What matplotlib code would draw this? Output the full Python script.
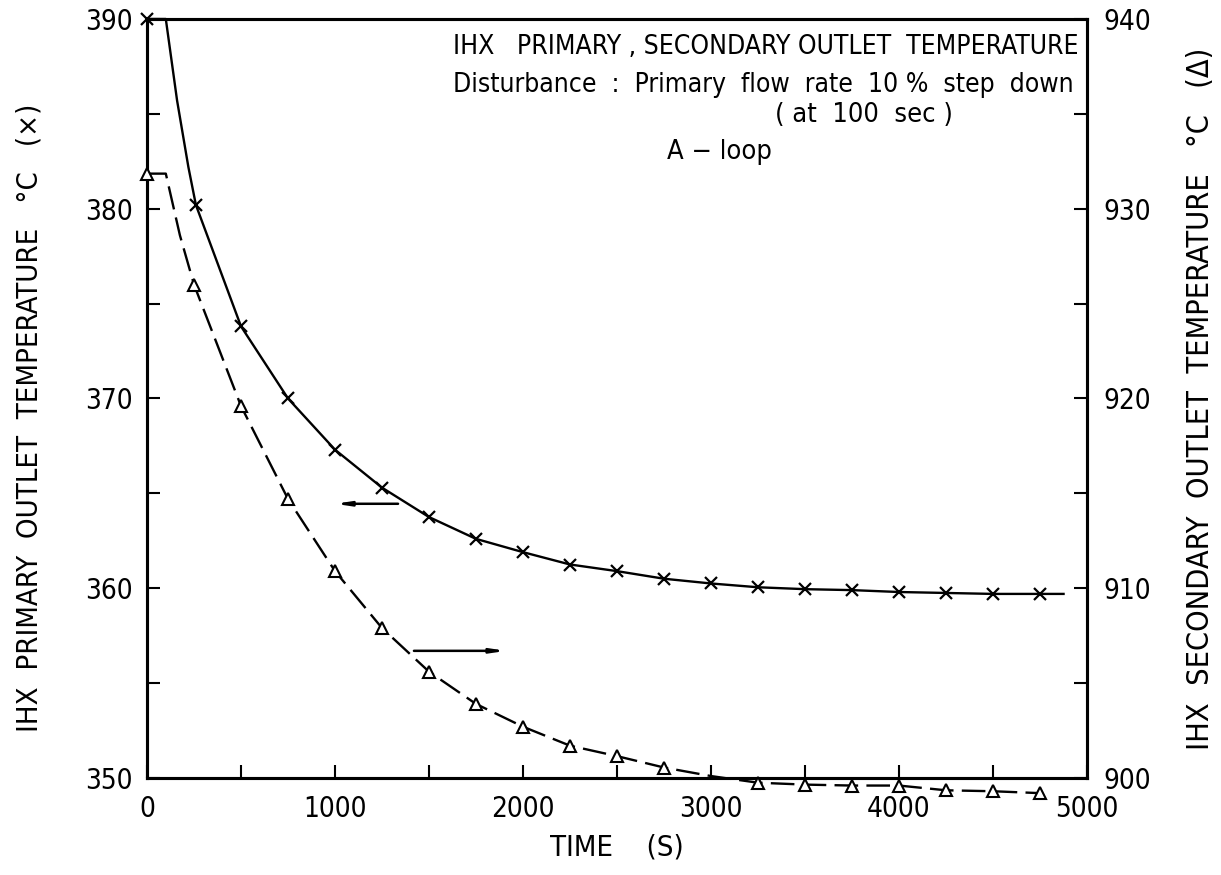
import numpy as np
import matplotlib
matplotlib.use("Agg")
import matplotlib.pyplot as plt
from matplotlib.ticker import MultipleLocator

# primary outlet temperature (x), left axis
t_prim = [0, 100, 160, 220, 260, 500, 750, 1000, 1250, 1500, 1750, 2000, 2250,
          2500, 2750, 3000, 3250, 3500, 3750, 4000, 4250, 4500, 4750, 4875]
temp_prim = [390.0, 390.0, 385.7, 382.2, 380.2, 373.8, 370.0, 367.3, 365.3, 363.75,
             362.6, 361.9, 361.25, 360.9, 360.5, 360.25, 360.05, 359.95, 359.9,
             359.8, 359.75, 359.7, 359.7, 359.7]
mark_prim = [0] + list(range(4, 23))

# secondary outlet temperature (triangles), right axis
t_sec = [0, 100, 175, 250, 500, 750, 1000, 1250, 1500, 1750, 2000, 2250, 2500,
         2750, 3000, 3250, 3500, 3750, 4000, 4250, 4500, 4750]
temp_sec = [931.85, 931.85, 928.6, 926.0, 919.6, 914.7, 910.9, 907.9, 905.6, 903.9,
            902.7, 901.7, 901.15, 900.55, 900.1, 899.75, 899.65, 899.6, 899.6,
            899.35, 899.3, 899.2]
mark_sec = [0] + list(range(3, 14)) + list(range(15, 22))

plt.rcParams['font.family'] = ['DejaVu Sans']
plt.rcParams['font.stretch'] = 'condensed'

fig = plt.figure(figsize=(12.21, 8.75), dpi=100)
ax = fig.add_axes([0.1204, 0.1109, 0.7699, 0.8674])
ax2 = ax.twinx()

ax.plot(t_prim, temp_prim, color='black', lw=1.7, marker='x', ms=8, mew=1.6,
        markevery=mark_prim, clip_on=False, zorder=5)
ax2.plot(t_sec, temp_sec, color='black', lw=1.7, linestyle=(0, (10, 3.5)),
         marker='^', ms=9, mew=1.5, mfc='white', markevery=mark_sec,
         clip_on=False, zorder=5)

ax.set_xlim(0, 5000)
ax.set_ylim(350, 390)
ax2.set_ylim(900, 940)

ax.xaxis.set_major_locator(MultipleLocator(1000))
ax.xaxis.set_minor_locator(MultipleLocator(500))
ax.yaxis.set_major_locator(MultipleLocator(10))
ax.yaxis.set_minor_locator(MultipleLocator(5))
ax2.yaxis.set_major_locator(MultipleLocator(10))
ax2.yaxis.set_minor_locator(MultipleLocator(5))

for a in (ax, ax2):
    a.tick_params(which='both', direction='in', length=9.5, width=1.5,
                  labelsize=20, pad=10)
    for s in a.spines.values():
        s.set_linewidth(2.2)
ax.tick_params(top=False, right=False, which='both')
ax.tick_params(axis='x', pad=12)
ax2.tick_params(axis='y', pad=12)

ax.set_xlabel('TIME    (S)', fontsize=21, labelpad=8)
ax.set_ylabel('IHX  PRIMARY  OUTLET  TEMPERATURE   °C   (×)', fontsize=21,
              labelpad=1)
ax.yaxis.set_label_coords(-0.11, 0.475)
ax2.set_ylabel('IHX  SECONDARY  OUTLET  TEMPERATURE   °C   (Δ)', fontsize=22,
               labelpad=25)

# annotation text
ax.text(0.325, 0.963, 'IHX   PRIMARY , SECONDARY OUTLET  TEMPERATURE',
        transform=ax.transAxes, fontsize=19, va='center')
ax.text(0.325, 0.913, 'Disturbance  :  Primary  flow  rate  10 %  step  down',
        transform=ax.transAxes, fontsize=19, va='center')
ax.text(0.668, 0.8735, '( at  100  sec )', transform=ax.transAxes,
        fontsize=19.5, va='center')
ax.text(0.553, 0.825, 'A − loop', transform=ax.transAxes, fontsize=19.5,
        va='center')

# arrows pointing to the matching axis
ax.annotate('', xy=(985, 364.45), xytext=(1350, 364.45),
            arrowprops=dict(arrowstyle='-|>,head_length=0.8,head_width=0.12',
                            lw=1.8, color='black'))
ax.annotate('', xy=(1925, 356.7), xytext=(1405, 356.7),
            arrowprops=dict(arrowstyle='-|>,head_length=0.8,head_width=0.12',
                            lw=1.8, color='black'))

fig.savefig('out.png', dpi=100)
